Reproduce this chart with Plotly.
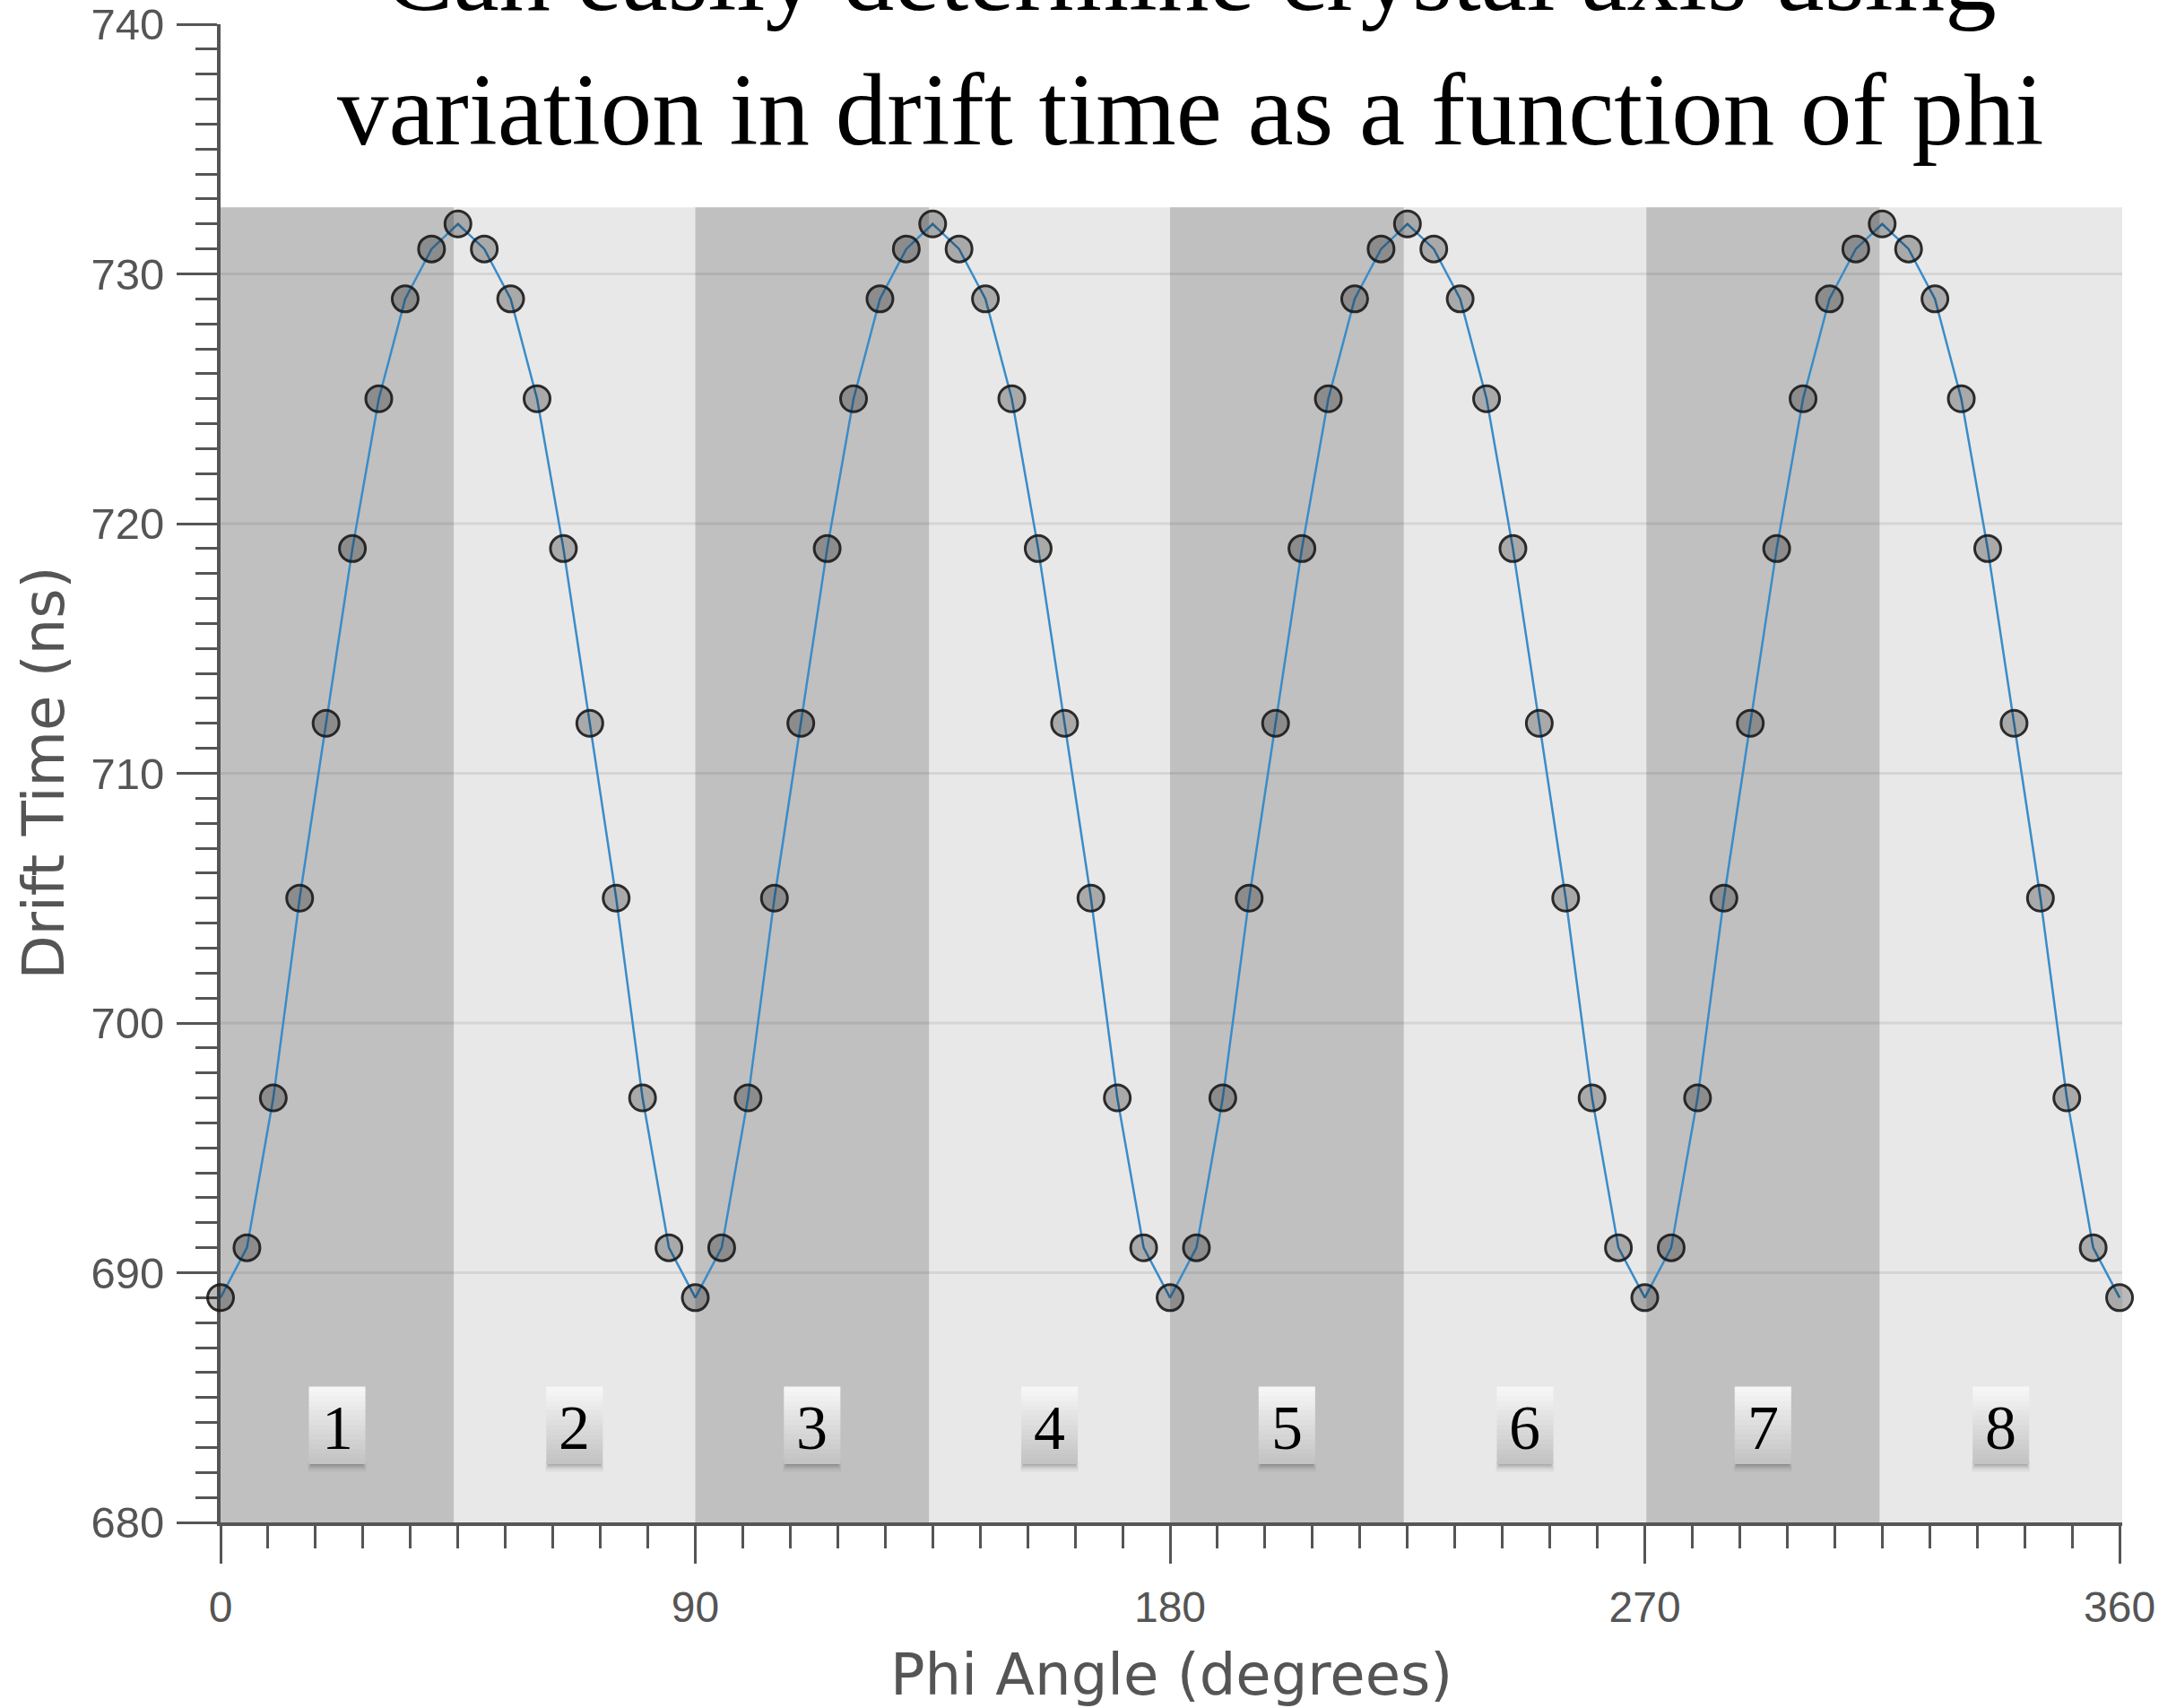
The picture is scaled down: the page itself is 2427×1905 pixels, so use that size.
import plotly.graph_objects as go

# ---------------- data ----------------
phi_deg = [0, 5, 10, 15, 20, 25, 30, 35, 40, 45, 50, 55, 60, 65, 70, 75, 80, 85,
           90, 95, 100, 105, 110, 115, 120, 125, 130, 135, 140, 145, 150, 155, 160, 165, 170, 175,
           180, 185, 190, 195, 200, 205, 210, 215, 220, 225, 230, 235, 240, 245, 250, 255, 260, 265,
           270, 275, 280, 285, 290, 295, 300, 305, 310, 315, 320, 325, 330, 335, 340, 345, 350, 355,
           360]
drift_ns = [689, 691, 697, 705, 712, 719, 725, 729, 731, 732, 731, 729, 725, 719, 712, 705, 697, 691,
            689, 691, 697, 705, 712, 719, 725, 729, 731, 732, 731, 729, 725, 719, 712, 705, 697, 691,
            689, 691, 697, 705, 712, 719, 725, 729, 731, 732, 731, 729, 725, 719, 712, 705, 697, 691,
            689, 691, 697, 705, 712, 719, 725, 729, 731, 732, 731, 729, 725, 719, 712, 705, 697, 691,
            689]
region_labels = ["1", "2", "3", "4", "5", "6", "7", "8"]
region_edges = [0, 44.2, 90, 134.3, 180, 224.3, 270.3, 314.5, 360.5]
shade_top = 732.67
label_y = 683.9
grid_values = [690, 700, 710, 720, 730]

title_text = "Can easily determine crystal axis using<br>variation in drift time as a function of phi"
x_title = "Phi Angle (degrees)"
y_title = "Drift Time (ns)"

AX = "#555555"
SANS = "DejaVu Sans, Open Sans, sans-serif"
TICKFONT = "Liberation Sans, Arial, sans-serif"
SERIF = "Liberation Serif, Times New Roman, serif"

shapes = []
# light background band
shapes.append(dict(type="rect", xref="x", yref="y", x0=region_edges[0], x1=region_edges[-1],
                   y0=680, y1=shade_top, fillcolor="#e8e8e8", line=dict(width=0), layer="below"))
# dark bands
for i in range(0, len(region_edges) - 1, 2):
    shapes.append(dict(type="rect", xref="x", yref="y", x0=region_edges[i], x1=region_edges[i + 1],
                       y0=680, y1=shade_top, fillcolor="#c0c0c0", line=dict(width=0), layer="below"))
# grid lines inside shaded area
for g in grid_values:
    shapes.append(dict(type="line", xref="x", yref="y", x0=region_edges[0], x1=region_edges[-1],
                       y0=g, y1=g, line=dict(color="rgba(0,0,0,0.08)", width=3), layer="below"))

# label boxes (soft shadow + vertical gradient made of strips)
annotations = []
n_strips = 16
top_c = (248, 248, 248)
bot_c = (194, 194, 194)
half_w, half_h = 31.5, 43
for i, lab in enumerate(region_labels):
    cx = (region_edges[i] + region_edges[i + 1]) / 2
    for (dx, depth, a) in [(1, 9, 0.04), (0, 6, 0.06), (-1, 4, 0.08), (-2, 2, 0.10)]:
        shapes.append(dict(type="rect", xref="x", yref="y", xsizemode="pixel", ysizemode="pixel",
                           xanchor=cx, yanchor=label_y, x0=-half_w - dx, x1=half_w + dx,
                           y0=-half_h - depth, y1=-half_h + 2,
                           fillcolor=f"rgba(0,0,0,{a})", line=dict(width=0), layer="above"))
    h = 2 * half_h / n_strips
    for j in range(n_strips):
        t = (j + 0.5) / n_strips
        c = tuple(int(round(top_c[k] + (bot_c[k] - top_c[k]) * t)) for k in range(3))
        shapes.append(dict(type="rect", xref="x", yref="y", xsizemode="pixel", ysizemode="pixel",
                           xanchor=cx, yanchor=label_y, x0=-half_w, x1=half_w,
                           y0=half_h - (j + 1) * h - 0.5, y1=half_h - j * h,
                           fillcolor=f"rgb{c}", line=dict(width=0), layer="above"))
    annotations.append(dict(xref="x", yref="y", x=cx, y=label_y, text=lab, showarrow=False,
                            font=dict(family=SERIF, size=70, color="black"),
                            xanchor="center", yanchor="middle", yshift=-3))

# title
annotations.append(dict(xref="paper", yref="paper", x=0.51, y=1, text=title_text, showarrow=False,
                        font=dict(family=SERIF, size=115, color="black"),
                        xanchor="center", yanchor="middle", yshift=-20, align="center"))
# axis titles
annotations.append(dict(xref="paper", yref="paper", x=0.5, y=0, text=x_title, showarrow=False,
                        font=dict(family=SANS, size=64, color=AX),
                        xanchor="center", yanchor="middle", yshift=-170))
annotations.append(dict(xref="paper", yref="paper", x=0, y=0.5, text=y_title, showarrow=False,
                        font=dict(family=SANS, size=64, color=AX), textangle=-90,
                        xanchor="center", yanchor="middle", xshift=-198))

fig = go.Figure()
fig.add_trace(go.Scatter(
    x=phi_deg, y=drift_ns, mode="lines+markers", cliponaxis=False,
    line=dict(color="rgb(58,140,200)", width=2.5),
    marker=dict(size=29, color="rgba(0,0,0,0.27)", line=dict(color="rgba(25,25,25,0.9)", width=3)),
    showlegend=False, hoverinfo="x+y"))

fig.update_layout(
    width=2427, height=1905,
    margin=dict(l=246, r=60, t=27, b=207, pad=0, autoexpand=False),
    paper_bgcolor="white", plot_bgcolor="white",
    shapes=shapes, annotations=annotations, showlegend=False,
    xaxis=dict(range=[0, 360.5], tickmode="linear", tick0=0, dtick=90, automargin=False,
               ticks="outside", ticklen=42, tickwidth=3, tickcolor=AX,
               showline=True, linewidth=4, linecolor=AX, showgrid=False, zeroline=False,
               tickfont=dict(family=TICKFONT, size=48, color=AX), ticklabelstandoff=7,
               layer="below traces",
               minor=dict(tick0=0, dtick=9, ticks="outside", ticklen=25, tickwidth=3,
                          tickcolor=AX, showgrid=False)),
    yaxis=dict(range=[680, 740], tickmode="linear", tick0=680, dtick=10, automargin=False,
               ticks="outside", ticklen=45, tickwidth=3, tickcolor=AX,
               showline=True, linewidth=4, linecolor=AX, showgrid=False, zeroline=False,
               tickfont=dict(family=TICKFONT, size=49, color=AX), ticklabelstandoff=4,
               layer="below traces",
               minor=dict(tick0=680, dtick=1, ticks="outside", ticklen=24, tickwidth=3,
                          tickcolor=AX, showgrid=False)),
)

fig.write_html("out.html")
